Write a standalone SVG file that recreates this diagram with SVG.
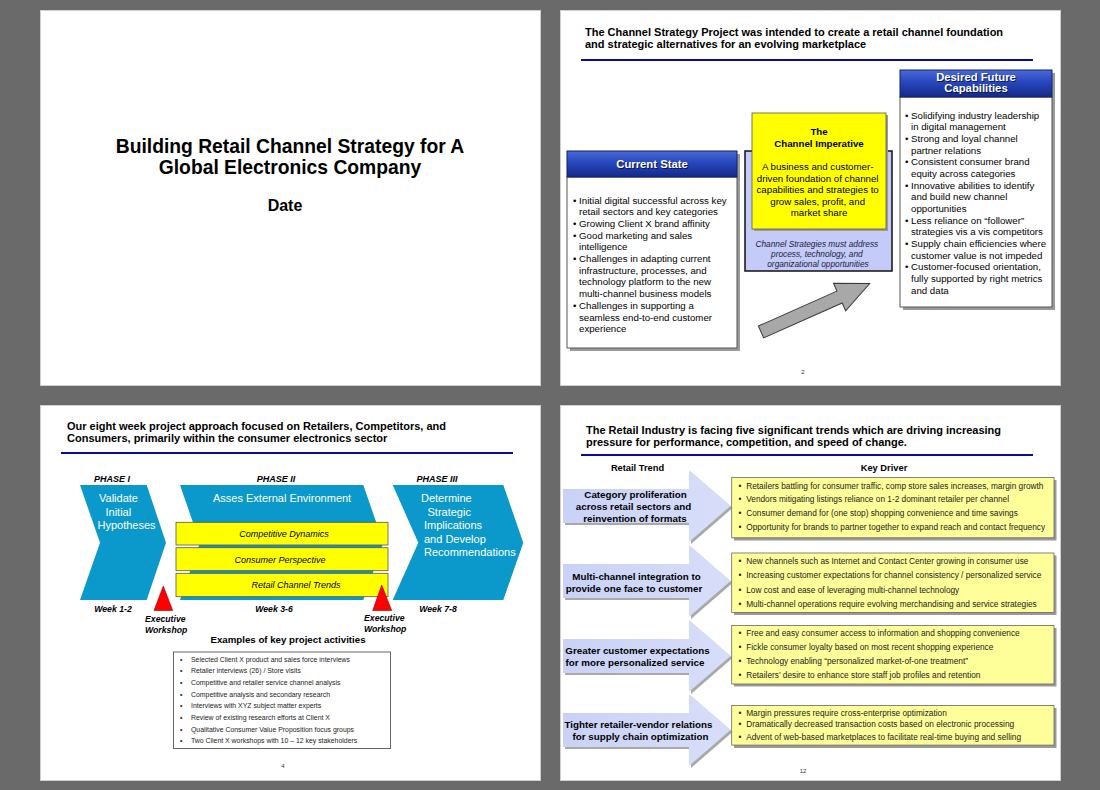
<svg xmlns="http://www.w3.org/2000/svg" width="1100" height="790" viewBox="0 0 1100 790">
<defs>
<linearGradient id="hdr" x1="0" y1="0" x2="0" y2="1">
<stop offset="0" stop-color="#4a6ad8"/>
<stop offset="0.45" stop-color="#2747bd"/>
<stop offset="1" stop-color="#142a88"/>
</linearGradient>
<linearGradient id="arr" x1="0" y1="0" x2="1" y2="0">
<stop offset="0" stop-color="#c9d2f6"/>
<stop offset="1" stop-color="#d8def9"/>
</linearGradient>
</defs>
<style>
text{font-family:"Liberation Sans",Arial,Helvetica,sans-serif;fill:#000}
.slide{fill:#fff;stroke:#cfcfcf;stroke-width:1}
.ttl{font-size:11px;font-weight:bold}
.rule{stroke:#0a0a9a;stroke-width:2}
.hdrbox{fill:url(#hdr);stroke:#10206a;stroke-width:1}
.hdrtxt{font-size:11.3px;font-weight:bold;fill:#fff;text-anchor:middle}
.hdrsh{font-size:11.3px;font-weight:bold;fill:#0a1550;text-anchor:middle}
.body{fill:#fff;stroke:#555;stroke-width:1}
.shadow{fill:#9a9a9a}
.b10{font-size:9.7px}
.mid{text-anchor:middle}
.bold{font-weight:bold}
.ital{font-style:italic}
.phase{fill:#0b99cc}
.wt{fill:#fff;font-size:11px}
.ybox{fill:#ffff00;stroke:#555;stroke-width:0.8}
.ph{font-size:9px;font-weight:bold;font-style:italic;text-anchor:middle}
.wk{font-size:8.7px;font-weight:bold;font-style:italic}
.tri{fill:#ff0000;stroke:#990000;stroke-width:0.6}
.act{font-size:6.9px;fill:#222}
.ly{fill:#ffff99;stroke:#666;stroke-width:0.8}
.kd{font-size:8.3px;fill:#222}
.tr{font-size:9.8px;font-weight:bold;text-anchor:middle}
.pg{font-size:6px;fill:#333;text-anchor:middle}
.larr{fill:url(#arr)}
.larrsh{fill:#a9a9a9}
</style>
<rect x="0" y="0" width="1100" height="790" fill="#6a6a6a"/>

<!-- Slide 1 -->
<g id="slide1">
<rect class="slide" x="40.5" y="10.5" width="500" height="375"/>
<text x="290" y="153" class="mid bold" style="font-size:19.3px">Building Retail Channel Strategy for A</text>
<text x="290" y="174" class="mid bold" style="font-size:19.3px">Global Electronics Company</text>
<text x="285" y="211" class="mid bold" style="font-size:16px">Date</text>
</g>

<!-- Slide 2 -->
<g id="slide2">
<rect class="slide" x="560.5" y="10.5" width="500" height="375"/>
<text x="585" y="35.5" class="ttl">The Channel Strategy Project was intended to create a retail channel foundation</text>
<text x="585" y="47.5" class="ttl">and strategic alternatives for an evolving marketplace</text>
<line class="rule" x1="581" y1="60" x2="1033" y2="60"/>
<text x="803" y="374" class="pg">2</text>
</g>

<g id="current-state">
<rect class="shadow" x="570" y="154" width="170" height="197"/>
<rect class="body" x="567" y="177" width="170" height="171"/>
<rect class="hdrbox" x="567" y="151" width="170" height="26"/>
<text x="653" y="169" class="hdrsh">Current State</text>
<text x="652" y="168" class="hdrtxt">Current State</text>
<text class="b10">
<tspan x="573" y="203.5">• Initial digital successful across key</tspan>
<tspan x="579" y="215.2">retail sectors and key categories</tspan>
<tspan x="573" y="226.9">• Growing Client X brand affinity</tspan>
<tspan x="573" y="238.6">• Good marketing and sales</tspan>
<tspan x="579" y="250.3">intelligence</tspan>
<tspan x="573" y="262">• Challenges in adapting current</tspan>
<tspan x="579" y="273.7">infrastructure, processes, and</tspan>
<tspan x="579" y="285.4">technology platform to the new</tspan>
<tspan x="579" y="297.1">multi-channel business models</tspan>
<tspan x="573" y="308.8">• Challenges in supporting a</tspan>
<tspan x="579" y="320.5">seamless end-to-end customer</tspan>
<tspan x="579" y="332.2">experience</tspan>
</text>
</g>

<g id="channel-imperative">
<rect x="745" y="151" width="147" height="120" fill="#c4cbf8" stroke="#111" stroke-width="1.5"/>
<rect class="shadow" x="754" y="115" width="134" height="116"/>
<rect class="ybox" x="752" y="113" width="134" height="116"/>
<text x="819" y="135" class="b10 mid bold">The</text>
<text x="819" y="147" class="b10 mid bold">Channel Imperative</text>
<text class="b10 mid">
<tspan x="819" y="170">A business and customer-</tspan>
<tspan x="819" y="181.6">driven foundation of channel</tspan>
<tspan x="819" y="193.2">capabilities and strategies to</tspan>
<tspan x="819" y="204.8">grow sales, profit, and</tspan>
<tspan x="819" y="216.4">market share</tspan>
</text>
<text class="mid ital" style="font-size:8.3px;fill:#1a1a3a">
<tspan x="818" y="247">Channel Strategies must address</tspan>
<tspan x="818" y="257">process, technology, and</tspan>
<tspan x="818" y="267">organizational opportunities</tspan>
</text>
</g>

<g id="desired-future">
<rect class="shadow" x="903" y="73" width="152" height="237"/>
<rect class="body" x="900" y="97" width="152" height="210"/>
<rect class="hdrbox" x="900" y="70" width="152" height="27"/>
<text x="977" y="82" class="hdrsh">Desired Future</text>
<text x="976" y="81" class="hdrtxt">Desired Future</text>
<text x="977" y="93" class="hdrsh">Capabilities</text>
<text x="976" y="92" class="hdrtxt">Capabilities</text>
<text class="b10">
<tspan x="905" y="118.5">• Solidifying industry leadership</tspan>
<tspan x="911" y="130.2">in digital management</tspan>
<tspan x="905" y="141.8">• Strong and loyal channel</tspan>
<tspan x="911" y="153.5">partner relations</tspan>
<tspan x="905" y="165.2">• Consistent consumer brand</tspan>
<tspan x="911" y="176.8">equity across categories</tspan>
<tspan x="905" y="188.5">• Innovative abilities to identify</tspan>
<tspan x="911" y="200.2">and build new channel</tspan>
<tspan x="911" y="211.8">opportunities</tspan>
<tspan x="905" y="223.5">• Less reliance on “follower”</tspan>
<tspan x="911" y="235.2">strategies vis a vis competitors</tspan>
<tspan x="905" y="246.8">• Supply chain efficiencies where</tspan>
<tspan x="911" y="258.5">customer value is not impeded</tspan>
<tspan x="905" y="270.2">• Customer-focused orientation,</tspan>
<tspan x="911" y="281.8">fully supported by right metrics</tspan>
<tspan x="911" y="293.5">and data</tspan>
</text>
</g>

<g id="connectors">
<polygon transform="translate(761,332) rotate(-24)" points="0,-6.5 86,-6.5 86,-15 119,0 86,15 86,6.5 0,6.5" fill="#a8a8a8" stroke="#3a3a3a" stroke-width="1"/>
</g>

<!-- Slide 3 -->
<g id="slide3">
<rect class="slide" x="40.5" y="405.5" width="500" height="375"/>
<text x="67" y="429.5" class="ttl">Our eight week project approach focused on Retailers, Competitors, and</text>
<text x="67" y="441.5" class="ttl">Consumers, primarily within the consumer electronics sector</text>
<line class="rule" x1="61" y1="453" x2="513" y2="453"/>
<text x="112" y="482" class="ph">PHASE I</text>
<text x="276" y="482" class="ph">PHASE II</text>
<text x="437" y="482" class="ph">PHASE III</text>
<text x="283" y="768" class="pg">4</text>
</g>

<g id="phase1">
<polygon class="phase" points="80,485 146.7,485 166,542.7 146.7,600 80,600 100,542.7"/>
<text class="wt"><tspan x="99" y="502">Validate</tspan><tspan x="105.5" y="515.5">Initial</tspan><tspan x="97.5" y="529">Hypotheses</tspan></text>
</g>

<g id="phase2">
<polygon class="phase" points="180,485 363.3,485 383.3,542.7 363.3,600 180,600 200,542.7"/>
<text class="wt" x="213" y="502">Asses External Environment</text>
<rect class="ybox" x="176" y="522.3" width="212" height="22.7"/>
<text x="284" y="537" class="mid ital" style="font-size:9px">Competitive Dynamics</text>
<rect class="ybox" x="176" y="547.7" width="212" height="23"/>
<text x="280" y="562.7" class="mid ital" style="font-size:9px">Consumer Perspective</text>
<rect class="ybox" x="176" y="573.3" width="212" height="23.4"/>
<text x="296" y="588.3" class="mid ital" style="font-size:9px">Retail Channel Trends</text>
</g>

<g id="phase3">
<polygon class="phase" points="392.7,485 503.3,485 523.3,542.7 503.3,600 392.7,600 418.3,542.7"/>
<text class="wt"><tspan x="421" y="502">Determine</tspan><tspan x="427.5" y="515.5">Strategic</tspan><tspan x="424" y="529">Implications</tspan><tspan x="424" y="542.5">and Develop</tspan><tspan x="424" y="556">Recommendations</tspan></text>
</g>

<g id="workshop1">
<polygon class="tri" points="163.3,586 172.7,610.5 154,610.5"/>
<text class="wk"><tspan x="145" y="622">Executive</tspan><tspan x="145" y="633">Workshop</tspan></text>
</g>
<g id="workshop2">
<polygon class="tri" points="381.7,585 391.7,610.5 372.7,610.5"/>
<text class="wk"><tspan x="364" y="621">Executive</tspan><tspan x="364" y="632">Workshop</tspan></text>
</g>
<g id="weeks">
<text x="113" y="612" class="wk mid">Week 1-2</text>
<text x="274" y="612" class="wk mid">Week 3-6</text>
<text x="438" y="612" class="wk mid">Week 7-8</text>
</g>

<g id="activities">
<text x="288" y="643" class="mid bold" style="font-size:9.7px">Examples of key project activities</text>
<rect x="173.5" y="652" width="217" height="96.5" fill="#fff" stroke="#666" stroke-width="1"/>
<text class="act">
<tspan x="180" y="661.5">•</tspan><tspan x="191" y="661.5">Selected Client X product and sales force interviews</tspan>
<tspan x="180" y="673.2">•</tspan><tspan x="191" y="673.2">Retailer interviews (26)  / Store visits</tspan>
<tspan x="180" y="684.8">•</tspan><tspan x="191" y="684.8">Competitive and retailer service channel analysis</tspan>
<tspan x="180" y="696.5">•</tspan><tspan x="191" y="696.5">Competitive analysis and secondary research</tspan>
<tspan x="180" y="708.2">•</tspan><tspan x="191" y="708.2">Interviews with XYZ subject matter experts</tspan>
<tspan x="180" y="719.8">•</tspan><tspan x="191" y="719.8">Review of existing research efforts at Client X</tspan>
<tspan x="180" y="731.5">•</tspan><tspan x="191" y="731.5">Qualitative Consumer Value Proposition focus groups</tspan>
<tspan x="180" y="743.2">•</tspan><tspan x="191" y="743.2">Two Client X workshops with 10 – 12 key stakeholders</tspan>
</text>
</g>

<!-- Slide 4 -->
<g id="slide4">
<rect class="slide" x="560.5" y="405.5" width="500" height="375"/>
<text x="586" y="433.5" class="ttl">The Retail Industry is facing five significant trends which are driving increasing</text>
<text x="586" y="446" class="ttl">pressure for performance, competition, and speed of change.</text>
<line class="rule" x1="581" y1="455" x2="1033" y2="455"/>
<text x="637.5" y="471" class="mid bold" style="font-size:9.3px">Retail Trend</text>
<text x="884" y="471" class="mid bold" style="font-size:9.3px">Key Driver</text>
<text x="803" y="773" class="pg">12</text>
</g>

<g id="trend1">
<polygon class="larrsh" points="565,491 691,491 691,472 732.5,508 691,544 691,525 565,525"/>
<polygon class="larr" points="563,489 689,489 689,470 730.5,506 689,542 689,523 563,523"/>
<text class="tr"><tspan x="635.5" y="497.5">Category proliferation</tspan><tspan x="633.5" y="509.8">across retail sectors and</tspan><tspan x="635" y="522">reinvention of formats</tspan></text>
</g>
<g id="driver1">
<rect class="shadow" x="734" y="480" width="322.5" height="60.5"/>
<rect class="ly" x="731.7" y="477.5" width="322.3" height="60.3"/>
<text class="kd">
<tspan x="738.5" y="488.5">•</tspan><tspan x="746.2" y="488.5">Retailers battling for consumer traffic, comp store sales increases, margin growth</tspan>
<tspan x="738.5" y="502.3">•</tspan><tspan x="746.2" y="502.3">Vendors mitigating listings reliance on 1-2 dominant retailer per channel</tspan>
<tspan x="738.5" y="516.1">•</tspan><tspan x="746.2" y="516.1">Consumer demand for (one stop) shopping convenience and time savings</tspan>
<tspan x="738.5" y="529.9">•</tspan><tspan x="746.2" y="529.9">Opportunity for brands to partner together to expand reach and contact frequency</tspan>
</text>
</g>

<g id="trend2">
<polygon class="larrsh" points="565,566 691,566 691,547 732.5,583 691,619 691,600 565,600"/>
<polygon class="larr" points="563,564 689,564 689,545 730.5,581 689,617 689,598 563,598"/>
<text class="tr"><tspan x="636.5" y="579.5">Multi-channel integration to</tspan><tspan x="634" y="592">provide one face to customer</tspan></text>
</g>
<g id="driver2">
<rect class="shadow" x="734" y="555.5" width="322.5" height="59.5"/>
<rect class="ly" x="731.7" y="553" width="322.3" height="59.4"/>
<text class="kd">
<tspan x="738.5" y="564.3">•</tspan><tspan x="746.2" y="564.3">New channels such as Internet and Contact Center growing in consumer use</tspan>
<tspan x="738.5" y="578.4">•</tspan><tspan x="746.2" y="578.4">Increasing customer expectations for channel consistency / personalized service</tspan>
<tspan x="738.5" y="592.5">•</tspan><tspan x="746.2" y="592.5">Low cost and ease of leveraging multi-channel technology</tspan>
<tspan x="738.5" y="606.6">•</tspan><tspan x="746.2" y="606.6">Multi-channel operations require evolving merchandising and service strategies</tspan>
</text>
</g>

<g id="trend3">
<polygon class="larrsh" points="565,641 691,641 691,622 732.5,658 691,694 691,675 565,675"/>
<polygon class="larr" points="563,639 689,639 689,620 730.5,656 689,692 689,673 563,673"/>
<text class="tr"><tspan x="637.5" y="653.5">Greater customer expectations</tspan><tspan x="635" y="666">for more personalized service</tspan></text>
</g>
<g id="driver3">
<rect class="shadow" x="734" y="628" width="322.5" height="58.5"/>
<rect class="ly" x="731.7" y="625.5" width="322.3" height="58.5"/>
<text class="kd">
<tspan x="738.5" y="635.5">•</tspan><tspan x="746.2" y="635.5">Free and easy consumer access to information and shopping convenience</tspan>
<tspan x="738.5" y="649.5">•</tspan><tspan x="746.2" y="649.5">Fickle consumer loyalty based on most recent shopping experience</tspan>
<tspan x="738.5" y="663.5">•</tspan><tspan x="746.2" y="663.5">Technology enabling “personalized market-of-one treatment”</tspan>
<tspan x="738.5" y="677.5">•</tspan><tspan x="746.2" y="677.5">Retailers’ desire to enhance store staff job profiles and retention</tspan>
</text>
</g>

<g id="trend4">
<polygon class="larrsh" points="565,715 691,715 691,696 732.5,732 691,768 691,749 565,749"/>
<polygon class="larr" points="563,713 689,713 689,694 730.5,730 689,766 689,747 563,747"/>
<text class="tr"><tspan x="638.5" y="727.5">Tighter retailer-vendor relations</tspan><tspan x="640.5" y="739.8">for supply chain optimization</tspan></text>
</g>
<g id="driver4">
<rect class="shadow" x="734" y="708" width="322.5" height="40"/>
<rect class="ly" x="731.7" y="705.5" width="322.3" height="39.6"/>
<text class="kd">
<tspan x="738.5" y="716">•</tspan><tspan x="746.2" y="716">Margin pressures require cross-enterprise optimization</tspan>
<tspan x="738.5" y="726.5">•</tspan><tspan x="746.2" y="726.5">Dramatically decreased transaction costs based on electronic processing</tspan>
<tspan x="738.5" y="740">•</tspan><tspan x="746.2" y="740">Advent of web-based marketplaces to facilitate real-time buying and selling</tspan>
</text>
</g>
</svg>
